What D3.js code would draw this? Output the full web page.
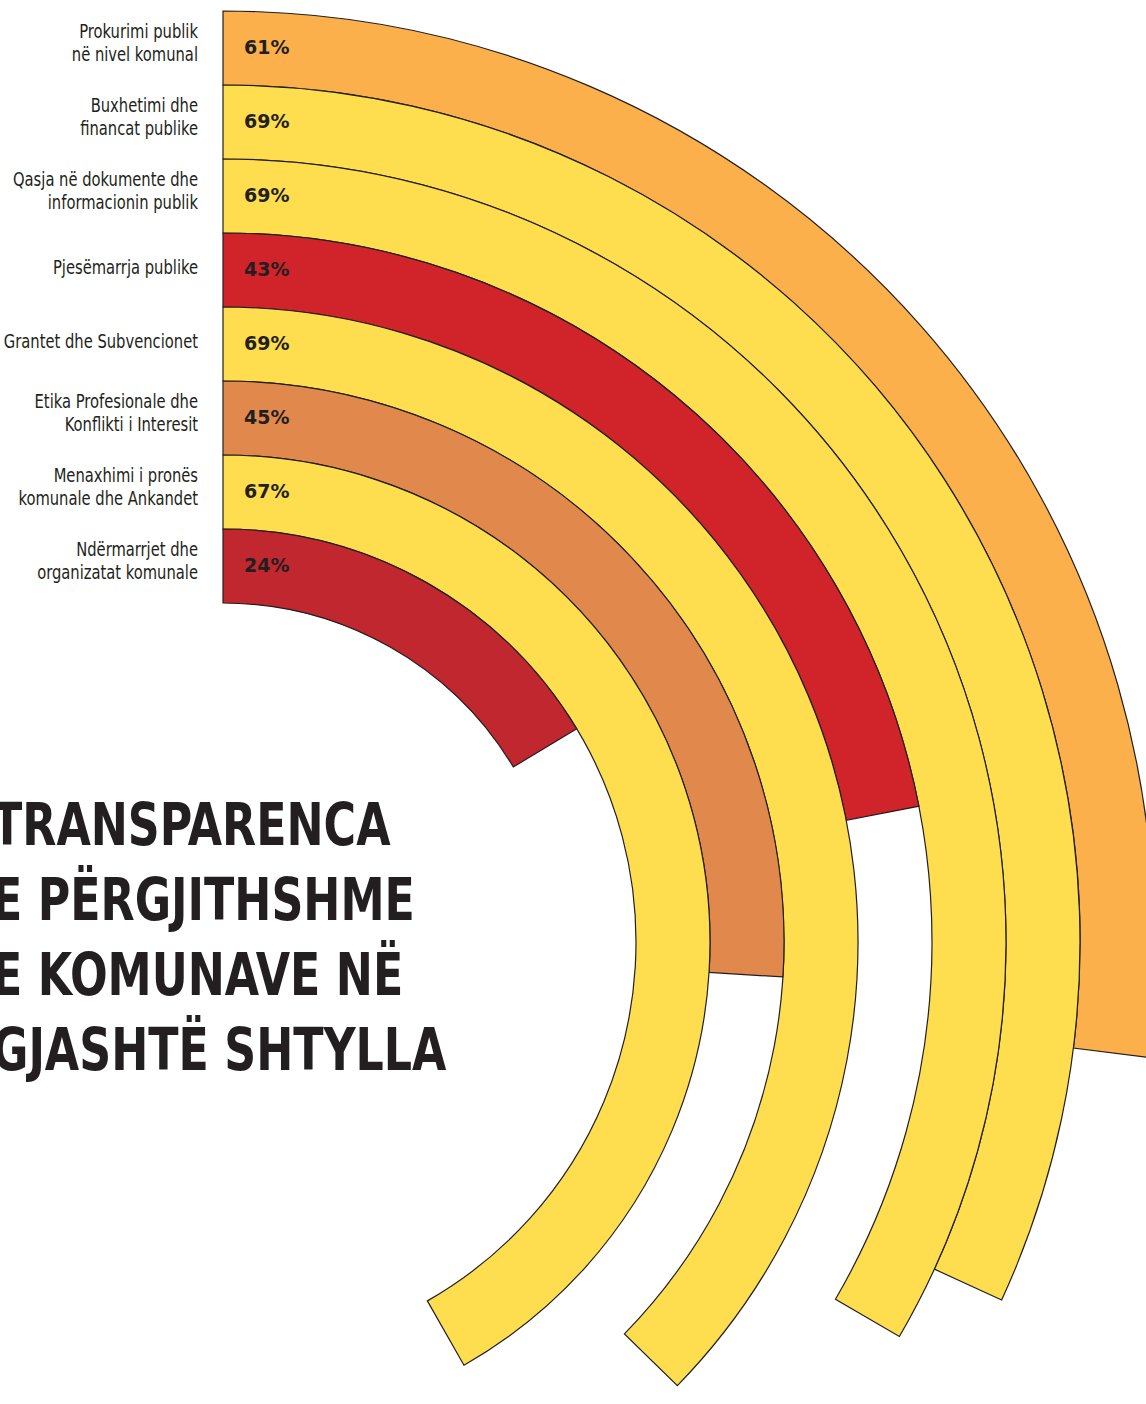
<!DOCTYPE html>
<html>
<head>
<meta charset="utf-8">
<script src="https://cdn.jsdelivr.net/npm/d3@7"></script>
<style>
  body { margin: 0; background: #fff; }
  svg { display: block; }
  .lbl { font-family: "DejaVu Sans Condensed", sans-serif; font-size: 20px; fill: #231F20; }
  .pct { font-family: "DejaVu Sans", sans-serif; font-weight: bold; font-size: 19px; fill: #231F20; }
  .title { font-family: "DejaVu Sans Condensed", sans-serif; font-weight: bold; font-size: 58px; fill: #231F20; }
</style>
</head>
<body>
<svg width="1146" height="1404"></svg>
<script>
// pillars, from the outer ring inwards
const pillars = [
  ["Prokurimi publik", "në nivel komunal"],
  ["Buxhetimi dhe", "financat publike"],
  ["Qasja në dokumente dhe", "informacionin publik"],
  ["Pjesëmarrja publike"],
  ["Grantet dhe Subvencionet"],
  ["Etika Profesionale dhe", "Konflikti i Interesit"],
  ["Menaxhimi i pronës", "komunale dhe Ankandet"],
  ["Ndërmarrjet dhe", "organizatat komunale"]
]
const scores = [61, 69, 69, 43, 69, 45, 67, 24]
const titleLines = ["TRANSPARENCA", "E PËRGJITHSHME", "E KOMUNAVE NË", "GJASHTË SHTYLLA"]

var cx = 223, cy = 942
var outerR = 931, innerR = 339

var data = pillars.map((p, i) => ({id: i, label: p, value: scores[i]}))

var svg = d3.select("svg")

var r = d3.scaleBand()
  .domain(data.map(d => d.id))
  .range([outerR, innerR])
  .paddingInner(0)

// sweep: value -> angle, shrinking with sqrt of the ring radius
var sweep = d3.scaleLinear().domain([0, 100]).range([0, 47.6 * 100 * Math.PI / 180])

var color = d3.scaleThreshold()
  .domain([30, 44, 60, 65])
  .range(["#C1272E", "#D1232A", "#E1894C", "#FBB04C", "#FEDD4F"])

var mid = d => r(d.id) + r.bandwidth() / 2

var arc = d3.arc()
  .innerRadius(d => r(d.id))
  .outerRadius(d => r(d.id) + r.bandwidth())
  .startAngle(0)
  .endAngle(d => sweep(d.value) / Math.sqrt(mid(d)))

var g = svg.append("g").attr("transform", "translate(" + cx + "," + cy + ")")

g.selectAll("path")
  .data(data)
  .enter()
  .append("path")
  .attr("d", arc)
  .style("fill", d => color(d.value))
  .style("stroke", "#231F20")
  .style("stroke-width", 1.2)

g.selectAll("text.pct")
  .data(data)
  .enter()
  .append("text")
  .attr("class", "pct")
  .attr("x", 21)
  .attr("y", d => -mid(d))
  .attr("dy", "0.3em")
  .text(d => d.value + "%")

// left labels, squeezed horizontally to look like a condensed face
var lbl = g.selectAll("text.lbl")
  .data(data)
  .enter()
  .append("text")
  .attr("class", "lbl")
  .attr("text-anchor", "end")
  .attr("transform", d => "translate(-25," + (-mid(d) - 3) + ") scale(0.82,1)")

lbl.selectAll("tspan")
  .data(d => d.label.map((t, i, a) => ({t: t, i: i, n: a.length})))
  .enter()
  .append("tspan")
  .attr("x", 0)
  .attr("dy", d => d.i == 0 ? (0.35 - (d.n - 1) * 0.7) + "em" : "1.15em")
  .text(d => d.t)

svg.append("g")
  .attr("transform", "translate(-8,845) scale(0.85,1)")
  .selectAll("text")
  .data(titleLines)
  .enter()
  .append("text")
  .attr("class", "title")
  .attr("y", (d, i) => i * 75)
  .text(d => d)
</script>
</body>
</html>
